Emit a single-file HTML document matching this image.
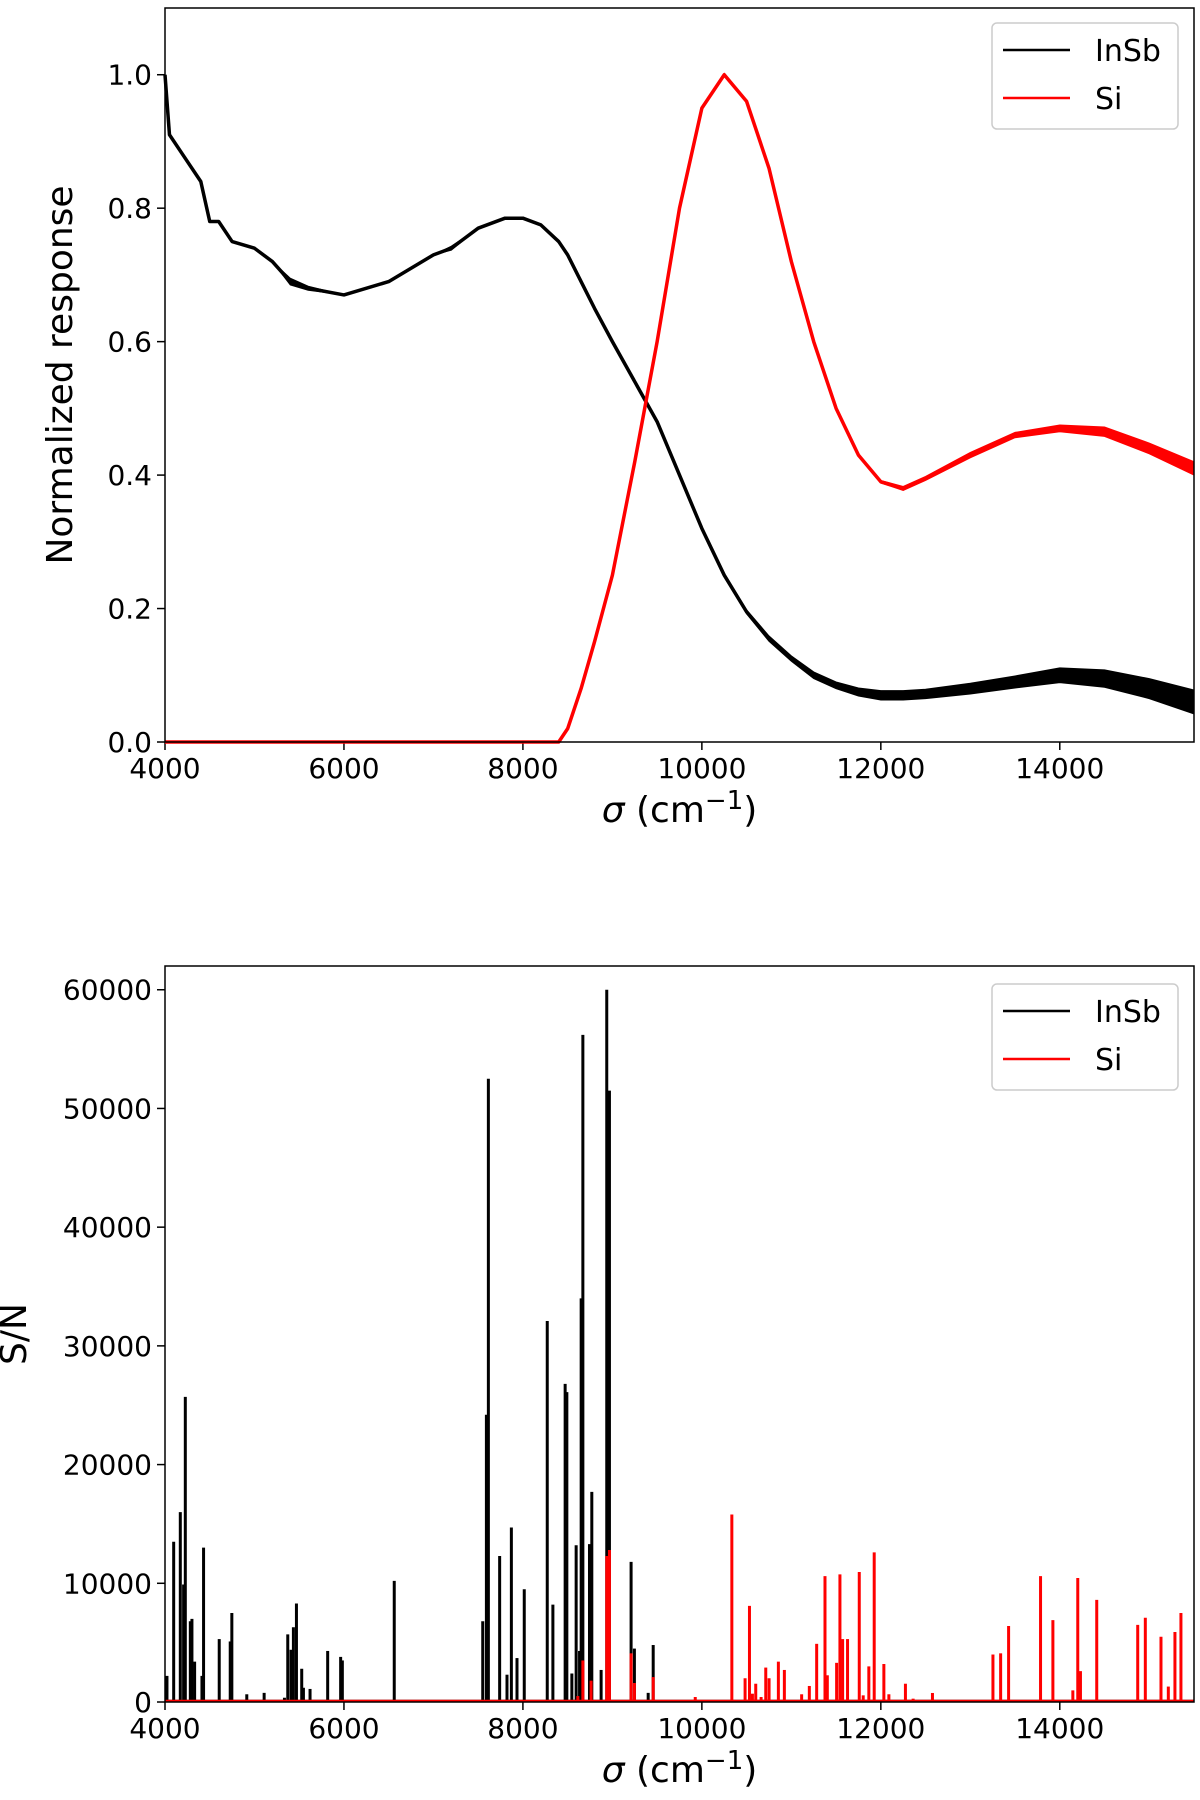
<!DOCTYPE html>
<html><head><meta charset="utf-8"><style>
html,body{margin:0;padding:0;background:#fff;}
svg{display:block;font-family:"DejaVu Sans","Liberation Sans",sans-serif;}
</style></head><body>
<svg id="fig" width="1200" height="1800" viewBox="0 0 1200 1800">
<g id="top"></g>
<g id="bot"></g>
</svg>
<script>
// ---- Top chart data ----
const respX = [4000,4050,4200,4400,4500,4600,4750,5000,5200,5400,5600,6000,6500,7000,7200,7500,7800,8000,8200,8400,8500,8650,8800,9000,9250,9500,9750,10000,10250,10500,10750,11000,11250,11500,11750,12000,12250,12500,13000,13500,14000,14500,15000,15500];
const insbY = [1.0,0.91,0.88,0.84,0.78,0.78,0.75,0.74,0.72,0.69,0.68,0.67,0.69,0.73,0.74,0.77,0.785,0.785,0.775,0.75,0.73,0.69,0.65,0.60,0.54,0.48,0.40,0.32,0.25,0.195,0.155,0.125,0.10,0.085,0.075,0.07,0.07,0.072,0.08,0.09,0.10,0.095,0.08,0.06];
const insbNoise = [0,0,0,0,0,0,0,0,0,0.005,0.003,0,0,0,0.003,0,0,0,0,0,0,0,0,0,0,0.002,0.002,0.002,0.003,0.003,0.004,0.004,0.005,0.005,0.006,0.007,0.007,0.007,0.008,0.009,0.011,0.013,0.015,0.018];
const siY = [0,0,0,0,0,0,0,0,0,0,0,0,0,0,0,0,0,0,0,0,0.02,0.08,0.15,0.25,0.42,0.60,0.80,0.95,1.0,0.96,0.86,0.72,0.60,0.50,0.43,0.39,0.38,0.395,0.43,0.46,0.47,0.465,0.44,0.41];
const siNoise = [0,0,0,0,0,0,0,0,0,0,0,0,0,0,0,0,0,0,0,0,0,0.002,0.002,0.002,0.002,0.002,0.002,0.002,0.002,0.002,0.002,0.002,0.002,0.002,0.002,0.002,0.003,0.003,0.004,0.004,0.005,0.007,0.008,0.01];
const topYTicks = [0.0,0.2,0.4,0.6,0.8,1.0];
const topYLabels = ["0.0","0.2","0.4","0.6","0.8","1.0"];
const xTicks = [4000,6000,8000,10000,12000,14000];
const xLabels = ["4000","6000","8000","10000","12000","14000"];
// ---- Bottom chart data ----
const insbPeakX = [4022,4097,4171,4208,4227,4283,4301,4331,4413,4431,4606,4729,4747,4914,5108,5335,5372,5409,5435,5469,5528,5547,5621,5818,5963,5982,6562,7551,7592,7614,7740,7822,7871,7934,8015,8272,8335,8472,8491,8547,8595,8633,8651,8670,8744,8770,8874,8937,8967,9209,9246,9400,9456];
const insbPeakY = [2200,13500,16000,9900,25700,6800,7000,3400,2200,13000,5300,5100,7500,650,770,360,5700,4400,6300,8300,2800,1200,1100,4300,3800,3500,10200,6800,24200,52500,12300,2300,14700,3700,9500,32100,8200,26800,26100,2400,13200,4300,34000,56200,13300,17700,2700,60000,51500,11800,4500,770,4800];
const siPeakX = [8614,8670,8762,8937,8967,9209,9246,9456,9926,10335,10483,10532,10565,10602,10662,10714,10751,10855,10922,11115,11201,11283,11376,11402,11506,11543,11573,11628,11759,11803,11866,11926,12034,12090,12275,12361,12577,13253,13339,13428,13785,13923,14146,14201,14231,14413,14871,14956,15131,15213,15287,15354];
const siPeakY = [500,3500,1800,12300,12800,4100,1600,2100,420,15800,2000,8100,700,1540,420,2900,2000,3400,2700,650,1350,4900,10600,2250,3300,10750,5300,5300,10950,560,3000,12600,3200,650,1540,280,760,4000,4100,6400,10600,6900,980,10450,2600,8600,6500,7100,5500,1300,5900,7500];
const botYTicks = [0,10000,20000,30000,40000,50000,60000];
const botYLabels = ["0","10000","20000","30000","40000","50000","60000"];

const NS="http://www.w3.org/2000/svg";
function mk(parent,tag,attrs,text){const e=document.createElementNS(NS,tag);for(const k in attrs)e.setAttribute(k,attrs[k]);if(text!==undefined)e.textContent=text;parent.appendChild(e);return e;}

const L=165,R=1194;
const xs = v => L + (v-4000)*(R-L)/11500;

function axes(g,T,B,ymax,yTicks,yLabels,yLabelText,yLabelX){
  const ys = v => B - v*(B-T)/ymax;
  for(let i=0;i<xTicks.length;i++){
    const x=xs(xTicks[i]);
    const t=mk(g,'line',{x1:x,x2:x,y1:B,y2:B+8,stroke:'#000','stroke-width':1.5});
    
    
    const l=mk(g,'text',{x:x,y:B+36,'text-anchor':'middle','font-size':28},xLabels[i]);
    
    
  }
  for(let i=0;i<yTicks.length;i++){
    const y=ys(yTicks[i]);
    const t=mk(g,'line',{x1:L-8,x2:L,y1:y,y2:y,stroke:'#000','stroke-width':1.5});
    
    
    const l=mk(g,'text',{x:L-13,y:y+10,'text-anchor':'end','font-size':28},yLabels[i]);
    
    
  }
  const xl=mk(g,'text',{x:(L+R)/2,y:B+80,'text-anchor':'middle','font-size':36});
  
  
  mk(xl,'tspan',{'font-style':'italic'},'σ');
  mk(xl,'tspan',{},' (cm');
  mk(xl,'tspan',{dy:-13,'font-size':26},'−1');
  mk(xl,'tspan',{dy:13},')');
  const yl=mk(g,'text',{x:yLabelX,y:(T+B)/2,'text-anchor':'middle','font-size':36,transform:`rotate(-90 ${yLabelX} ${(T+B)/2})`},yLabelText);
  
  
  return ys;
}
function frame(g,T,B){
  const f=mk(g,'rect',{x:L,y:T,width:R-L,height:B-T,fill:'none',stroke:'#000','stroke-width':1.5});
  
  
}
function legend(g,top){
  const box=mk(g,'rect',{x:992,y:top,width:186,height:106,rx:5,fill:'#fff',stroke:'#ccc','stroke-width':1.5});
  
  
  [['InSb','#000',top+27],['Si','#f00',top+75]].forEach(([n,c,y])=>{
    const ln=mk(g,'line',{x1:1003,x2:1070,y1:y,y2:y,stroke:c,'stroke-width':2.5});
    
    
    const t=mk(g,'text',{x:1095,y:y+11,'font-size':30},n);
    
    
  });
}
function curve(g,xArr,yArr,nArr,ys,color,name){
  let up=[],dn=[],mid=[];
  for(let i=0;i<xArr.length;i++){
    const x=xs(Math.min(xArr[i],15500));
    mid.push(x+','+ys(Math.max(0,yArr[i])));
    up.push(x+','+ys(yArr[i]+nArr[i]));
    dn.unshift(x+','+ys(Math.max(0,yArr[i]-nArr[i])));
  }
  const band=mk(g,'polygon',{points:up.concat(dn).join(' '),fill:color,stroke:color,'stroke-width':1});
  
  
  const p=mk(g,'polyline',{points:mid.join(' '),fill:'none',stroke:color,'stroke-width':3.5,'stroke-linejoin':'round'});
  
  
}
function spikes(g,xArr,yArr,ys,color,name){
  const base=mk(g,'line',{x1:L,x2:R,y1:ys(0)-1,y2:ys(0)-1,stroke:color,'stroke-width':2.5});
  
  
  for(let i=0;i<xArr.length;i++){
    const x=xs(xArr[i]);
    const s=mk(g,'line',{x1:x,x2:x,y1:ys(0),y2:ys(yArr[i]),stroke:color,'stroke-width':3});
    
    
  }
}
// top
const gt=document.getElementById('top');
const ysT=axes(gt,8,742,1.1,topYTicks,topYLabels,'Normalized response',72);
curve(gt,respX,insbY,insbNoise,ysT,'#000','insb');
curve(gt,respX,siY,siNoise,ysT,'#f00','si');
frame(gt,8,742);
legend(gt,23);
// bottom
const gb=document.getElementById('bot');
const ysB=axes(gb,966,1702,62000,botYTicks,botYLabels,'S/N',26);
spikes(gb,insbPeakX,insbPeakY,ysB,'#000','insb');
spikes(gb,siPeakX,siPeakY,ysB,'#f00','si');
frame(gb,966,1702);
legend(gb,984);
</script>
</body></html>
